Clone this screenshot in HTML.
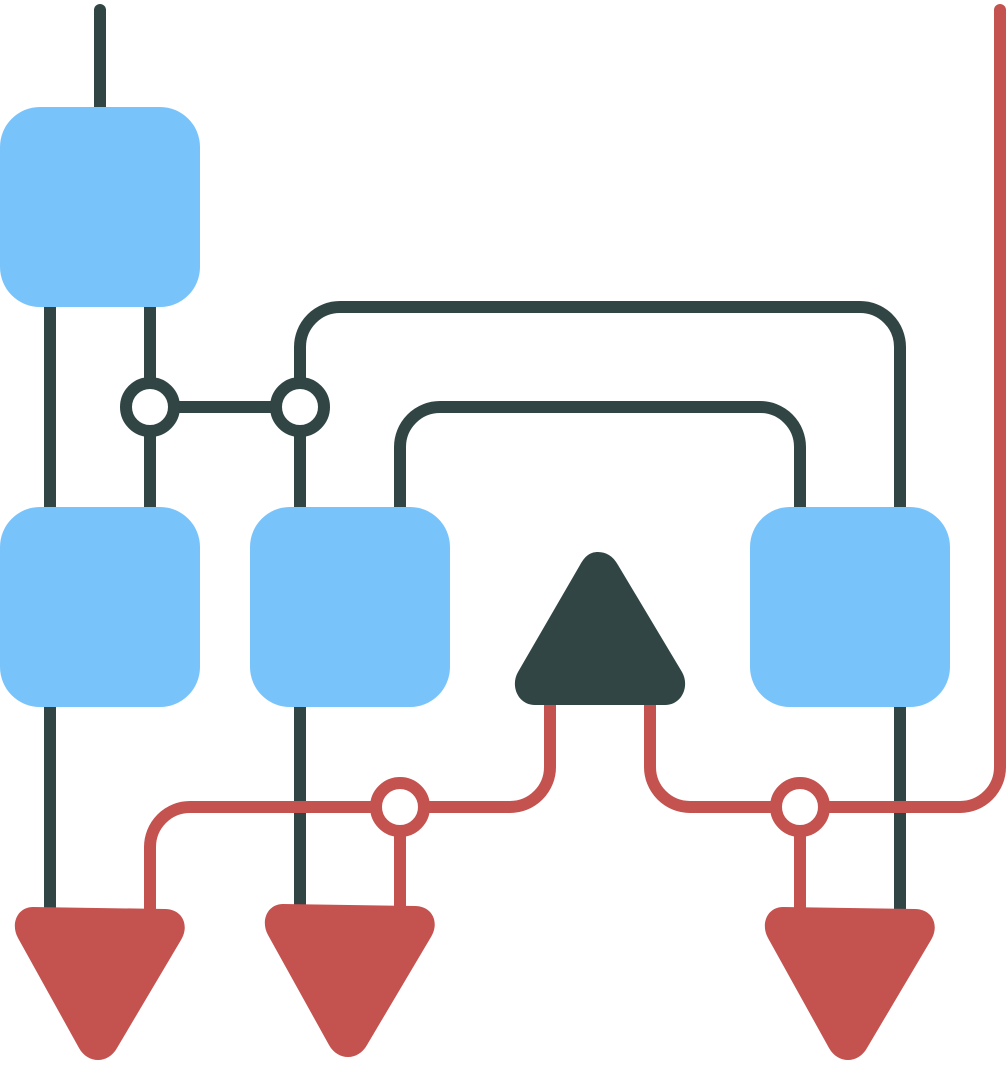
<!DOCTYPE html>
<html><head><style>html,body{margin:0;padding:0;background:#fff}svg{display:block}</style></head>
<body>
<svg width="1007" height="1083" viewBox="0 0 1007 1083" xmlns="http://www.w3.org/2000/svg">
<g fill="none" stroke="#314545" stroke-width="12" stroke-linecap="round">
<line x1="100" y1="10" x2="100" y2="110"/>
<line x1="50" y1="300" x2="50" y2="510"/>
<line x1="150" y1="300" x2="150" y2="510"/>
<line x1="150" y1="407" x2="300" y2="407"/>
<path d="M300 407 V347 A40 40 0 0 1 340 307 H860 A40 40 0 0 1 900 347 V510"/>
<line x1="300" y1="407" x2="300" y2="510"/>
<path d="M400 510 V447 A40 40 0 0 1 440 407 H760 A40 40 0 0 1 800 447 V510"/>
<line x1="50" y1="700" x2="50" y2="912" stroke-linecap="butt"/>
<line x1="300" y1="700" x2="300" y2="908" stroke-linecap="butt"/>
<line x1="900" y1="700" x2="900" y2="912" stroke-linecap="butt"/>
</g>
<g fill="#fff" stroke="#314545" stroke-width="12">
<circle cx="150" cy="407" r="24"/>
<circle cx="300" cy="407" r="24"/>
</g>
<g fill="#79c3fb">
<rect x="0" y="107" width="200" height="200" rx="40"/>
<rect x="0" y="507" width="200" height="200" rx="40"/>
<rect x="250" y="507" width="200" height="200" rx="40"/>
<rect x="750" y="507" width="200" height="200" rx="40"/>
</g>
<g fill="none" stroke="#c4524f" stroke-width="12" stroke-linecap="butt">
<path d="M550 705 V767 A40 40 0 0 1 510 807 H190 A40 40 0 0 0 150 847 V912"/>
<line x1="400" y1="807" x2="400" y2="910"/>
<path d="M650 705 V767 A40 40 0 0 0 690 807 H960 A40 40 0 0 0 1000 767 V10" />
<line x1="1000" y1="10" x2="1000" y2="12" stroke-linecap="round"/>
<line x1="800" y1="807" x2="800" y2="910"/>
</g>
<path d="M598 552 C590 552 585 556 580 565 L518 672 C510 686 518 705 535 705 L665 705 C682 705 690 686 682 672 L618 565 C613 556 606 552 598 552 Z" fill="#314545"/>
<g fill="#fff" stroke="#c4524f" stroke-width="12">
<circle cx="400" cy="807" r="24"/>
<circle cx="800" cy="807" r="24"/>
</g>
<g fill="#c4524f">
<path d="M33 907 L165 909 C182 909 190 925 181 940 L117 1048 C108 1064 88 1064 79 1048 L18 938 C10 923 18 907 33 907 Z"/>
<path d="M283 904 L415 906 C432 906 440 922 431 937 L367 1045 C358 1061 338 1061 329 1045 L268 935 C260 920 268 904 283 904 Z"/>
<path d="M783 907 L915 909 C932 909 940 925 931 940 L867 1048 C858 1064 838 1064 829 1048 L768 938 C760 923 768 907 783 907 Z"/>
</g>
</svg>
</body></html>
